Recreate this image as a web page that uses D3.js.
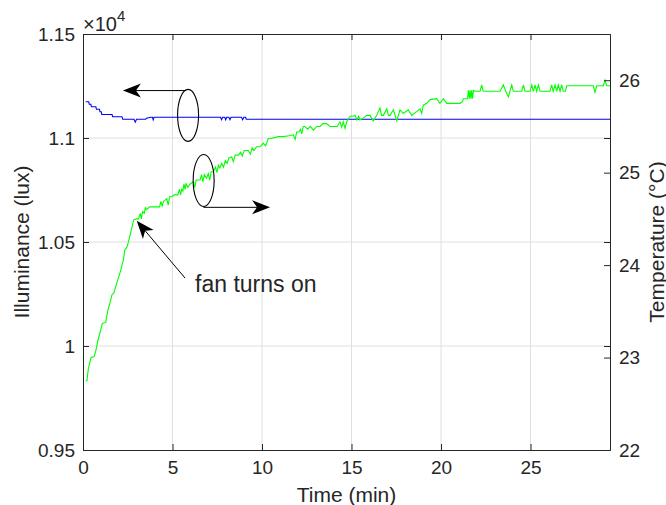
<!DOCTYPE html>
<html>
<head>
<meta charset="utf-8">
<script src="https://cdn.jsdelivr.net/npm/d3@7"></script>
<style>
  body { margin: 0; background: #fff; }
  text { font-family: "Liberation Sans", Arial, Helvetica, sans-serif; fill: #262626; }
</style>
</head>
<body>
<div id="chart"></div>
<script>
// ticks
const timeTicks = [0, 5, 10, 15, 20, 25];
const luxTicks = [9500, 10000, 10500, 11000, 11500];
const tempTicks = [22, 23, 24, 25, 26];

// illuminance (lux) vs time (min)
const luxData = [
  [0.15, 11174], [0.32, 11174], [0.35, 11162], [0.44, 11162], [0.47, 11150], [0.72, 11150],
  [0.75, 11138], [0.92, 11138], [0.95, 11126], [1.02, 11126], [1.05, 11113], [1.62, 11113],
  [1.66, 11102], [2.18, 11102], [2.22, 11090], [2.85, 11090], [2.92, 11076], [2.99, 11090],
  [3.50, 11090], [3.54, 11095], [3.80, 11100], [3.88, 11100], [3.92, 11087], [3.97, 11100],
  [7.68, 11100], [7.74, 11088], [7.80, 11100], [7.92, 11100], [7.97, 11088], [8.03, 11100],
  [8.15, 11100], [8.21, 11088], [8.27, 11100], [8.85, 11100], [8.92, 11088], [8.98, 11100],
  [9.08, 11100], [9.12, 11090], [29.44, 11090]
];

// temperature (degC) vs time (min)
const tempData = [
  [0.15, 22.75], [0.22, 22.75], [0.30, 22.88], [0.37, 22.94], [0.45, 23.00], [0.62, 23.01],
  [0.70, 23.06], [0.84, 23.19], [0.95, 23.27], [1.08, 23.37], [1.27, 23.38], [1.33, 23.45],
  [1.40, 23.52], [1.52, 23.60], [1.62, 23.68], [1.73, 23.70], [1.85, 23.78], [2.01, 23.88],
  [2.10, 23.94], [2.18, 24.00], [2.26, 24.06], [2.33, 24.16], [2.47, 24.20], [2.60, 24.30],
  [2.70, 24.38], [2.83, 24.49], [2.98, 24.50], [3.10, 24.50], [3.20, 24.56], [3.26, 24.50],
  [3.33, 24.58], [3.42, 24.56], [3.48, 24.62], [3.54, 24.60], [3.73, 24.63], [4.28, 24.63],
  [4.35, 24.69], [4.42, 24.64], [4.50, 24.69], [4.58, 24.70], [4.68, 24.72], [4.76, 24.65],
  [4.84, 24.74], [4.96, 24.74], [5.10, 24.76], [5.30, 24.76], [5.38, 24.82], [5.45, 24.76],
  [5.51, 24.82], [5.58, 24.80], [5.64, 24.88], [5.70, 24.82], [5.76, 24.88], [5.85, 24.84],
  [6.00, 24.88], [6.16, 24.90], [6.25, 24.84], [6.32, 24.92], [6.54, 24.92], [6.62, 24.98],
  [6.70, 24.90], [6.78, 24.98], [6.90, 24.94], [7.00, 24.99], [7.08, 24.92], [7.16, 25.01],
  [7.28, 25.01], [7.40, 25.06], [7.48, 25.00], [7.56, 25.08], [7.64, 25.05], [7.75, 25.10],
  [7.85, 25.06], [7.95, 25.13], [8.05, 25.10], [8.15, 25.16], [8.31, 25.17], [8.40, 25.12],
  [8.50, 25.19], [8.68, 25.19], [8.80, 25.22], [8.90, 25.18], [9.00, 25.24], [9.23, 25.24],
  [9.35, 25.20], [9.45, 25.27], [9.55, 25.24], [9.70, 25.28], [9.90, 25.28], [10.07, 25.32],
  [10.20, 25.29], [10.35, 25.37], [10.50, 25.37], [10.91, 25.39], [11.20, 25.39], [11.50, 25.40],
  [11.75, 25.41], [11.85, 25.36], [11.94, 25.44], [12.05, 25.44], [12.15, 25.47], [12.22, 25.42],
  [12.30, 25.50], [12.40, 25.50], [12.55, 25.47], [12.70, 25.50], [12.87, 25.46], [13.06, 25.50],
  [13.25, 25.50], [13.40, 25.53], [13.61, 25.53], [13.80, 25.50], [14.20, 25.50], [14.36, 25.55],
  [14.45, 25.49], [14.54, 25.55], [14.64, 25.48], [14.73, 25.55], [14.92, 25.61], [15.10, 25.61],
  [15.20, 25.62], [15.30, 25.57], [15.40, 25.61], [15.47, 25.57], [15.66, 25.59], [15.85, 25.62],
  [16.03, 25.62], [16.22, 25.56], [16.41, 25.62], [16.59, 25.70], [16.68, 25.62], [16.78, 25.62],
  [16.97, 25.69], [17.06, 25.62], [17.15, 25.62], [17.34, 25.68], [17.53, 25.56], [17.71, 25.68],
  [17.89, 25.64], [18.17, 25.68], [18.36, 25.62], [18.64, 25.66], [18.83, 25.69], [18.92, 25.64],
  [19.01, 25.73], [19.20, 25.75], [19.39, 25.79], [19.76, 25.80], [19.94, 25.75], [20.13, 25.80],
  [20.32, 25.75], [20.50, 25.75], [21.06, 25.75], [21.20, 25.77], [21.25, 25.80], [21.48, 25.80],
  [21.53, 25.89], [21.58, 25.80], [21.62, 25.89], [21.67, 25.80], [21.71, 25.89], [21.76, 25.80],
  [21.81, 25.89], [21.90, 25.88], [22.09, 25.88], [22.18, 25.88], [22.27, 25.95], [22.36, 25.88],
  [23.30, 25.88], [23.48, 25.95], [23.62, 25.88], [23.76, 25.82], [23.85, 25.88], [23.95, 25.95],
  [24.04, 25.88], [24.51, 25.88], [24.60, 25.95], [24.69, 25.88], [24.97, 25.88], [25.07, 25.95],
  [25.16, 25.88], [25.25, 25.95], [25.34, 25.88], [25.44, 25.95], [25.53, 25.88], [26.09, 25.88],
  [26.18, 25.95], [26.27, 25.88], [26.37, 25.95], [26.46, 25.88], [26.55, 25.95], [26.65, 25.88],
  [26.74, 25.95], [26.83, 25.88], [26.95, 25.88], [27.02, 25.94], [28.51, 25.94], [28.60, 25.87],
  [28.70, 25.94], [29.07, 25.94], [29.16, 26.00], [29.26, 25.94], [29.44, 25.94]
];

const width = 666, height = 505;
const margin = { top: 34, right: 56, bottom: 55, left: 83 };
const iw = width - margin.left - margin.right;
const ih = height - margin.top - margin.bottom;
const axisColor = "#262626", gridColor = "#dfdfdf";

const svg = d3.select("#chart").append("svg")
  .attr("width", width)
  .attr("height", height)
  .style("background", "#fff");

const x = d3.scaleLinear().domain([0, 29.44]).range([0, iw]);
const yL = d3.scaleLinear().domain([9500, 11500]).range([ih, 0]);
const yR = d3.scaleLinear().domain([22, 26.5]).range([ih, 0]);

const g = svg.append("g").attr("transform", `translate(${margin.left},${margin.top})`);

// grid
g.append("g").selectAll("line")
  .data(timeTicks.slice(1))
  .enter().append("line")
  .attr("x1", d => x(d)).attr("x2", d => x(d))
  .attr("y1", 0).attr("y2", ih)
  .attr("stroke", gridColor);
g.append("g").selectAll("line")
  .data(luxTicks.slice(1, -1))
  .enter().append("line")
  .attr("x1", 0).attr("x2", iw)
  .attr("y1", d => yL(d)).attr("y2", d => yL(d))
  .attr("stroke", gridColor);

// lines
const lineL = d3.line().x(d => x(d[0])).y(d => yL(d[1]));
const lineR = d3.line().x(d => x(d[0])).y(d => yR(d[1]));

g.append("path").datum(luxData)
  .attr("d", lineL)
  .attr("fill", "none").attr("stroke", "#0000ff").attr("stroke-width", 1.1);
g.append("path").datum(tempData)
  .attr("d", lineR)
  .attr("fill", "none").attr("stroke", "#00ff00").attr("stroke-width", 1.1);

// axes
const tickLen = 6;
function styleAxis(sel) {
  sel.attr("font-size", null).attr("font-family", null);
  sel.select(".domain").attr("stroke", axisColor).attr("stroke-width", 1);
  sel.selectAll(".tick line").attr("stroke", axisColor);
  sel.selectAll(".tick text").attr("fill", axisColor).style("font-size", "19px");
}

g.append("g").attr("transform", `translate(0,${ih})`)
  .call(d3.axisBottom(x).tickValues(timeTicks).tickSize(-tickLen).tickSizeOuter(0).tickPadding(11).tickFormat(d3.format("d")))
  .call(styleAxis);
g.append("g")
  .call(d3.axisTop(x).tickValues(timeTicks).tickSize(-tickLen).tickSizeOuter(0).tickFormat(""))
  .call(styleAxis);
g.append("g")
  .call(d3.axisLeft(yL).tickValues(luxTicks).tickSize(-tickLen).tickSizeOuter(0).tickPadding(8).tickFormat(d => String(+(d / 1e4).toFixed(2))))
  .call(styleAxis);
g.append("g").attr("transform", `translate(${iw},0)`)
  .call(d3.axisRight(yL).tickValues(luxTicks).tickSize(-tickLen).tickSizeOuter(0).tickFormat(""))
  .call(styleAxis);
g.append("g").attr("transform", `translate(${iw},0)`)
  .call(d3.axisRight(yR).tickValues(tempTicks).tickSize(-tickLen).tickSizeOuter(0).tickPadding(9).tickFormat(d3.format("d")))
  .call(styleAxis);

// axis labels
svg.append("text")
  .attr("x", margin.left + iw / 2).attr("y", height - 3)
  .attr("text-anchor", "middle").style("font-size", "21px")
  .text("Time (min)");
svg.append("text")
  .attr("transform", `translate(21,${margin.top + ih / 2}) rotate(-90)`)
  .attr("text-anchor", "middle").attr("dominant-baseline", "central").style("font-size", "21px")
  .text("Illuminance (lux)");
svg.append("text")
  .attr("transform", `translate(656,${margin.top + ih / 2}) rotate(-90)`)
  .attr("text-anchor", "middle").attr("dominant-baseline", "central").style("font-size", "21px")
  .text("Temperature (°C)");

// exponent
const expo = svg.append("text").attr("x", margin.left).attr("y", 31);
expo.append("tspan").style("font-size", "20px").text("×10");
expo.append("tspan").attr("dy", -10).style("font-size", "15px").text("4");

// annotations
function arrow(x1, y1, x2, y2) {
  const a = Math.atan2(y2 - y1, x2 - x1);
  const len = 18, half = 7, notch = 13;
  g.append("line")
    .attr("x1", x1).attr("y1", y1)
    .attr("x2", x2 - notch * Math.cos(a)).attr("y2", y2 - notch * Math.sin(a))
    .attr("stroke", "#000").attr("stroke-width", 1);
  g.append("path")
    .attr("d", `M0,0L${-len},${-half}L${-notch},0L${-len},${half}Z`)
    .attr("transform", `translate(${x2},${y2}) rotate(${a * 180 / Math.PI})`)
    .attr("fill", "#000");
}

// left-pointing: illuminance curve
g.append("ellipse")
  .attr("cx", x(5.87)).attr("cy", yL(11109)).attr("rx", 10.5).attr("ry", 26)
  .attr("fill", "none").attr("stroke", "#000").attr("stroke-width", 1.1);
arrow(x(5.75), yL(11228), x(2.23), yL(11228));

// right-pointing: temperature curve
g.append("ellipse")
  .attr("cx", x(6.74)).attr("cy", yR(24.915)).attr("rx", 10.5).attr("ry", 26)
  .attr("fill", "none").attr("stroke", "#000").attr("stroke-width", 1.1);
arrow(x(6.73), yR(24.625), x(10.45), yR(24.625));

// fan turns on
arrow(x(5.70), yR(23.86), x(3.0), yR(24.48));
g.append("text")
  .attr("x", x(6.26)).attr("y", yR(23.71))
  .style("font-size", "23px")
  .text("fan turns on");
</script>
</body>
</html>
